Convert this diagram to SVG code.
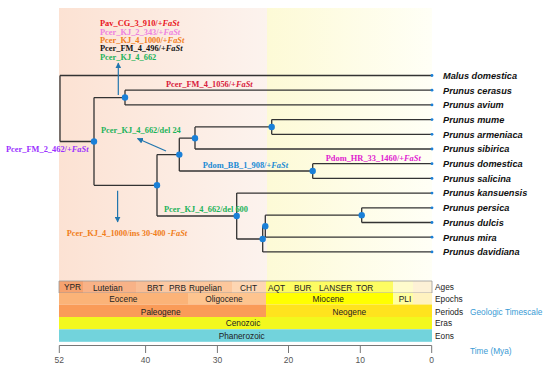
<svg xmlns="http://www.w3.org/2000/svg" width="550" height="373" viewBox="0 0 550 373">
<defs>
<linearGradient id="bgL" x1="0" y1="0" x2="1" y2="0">
<stop offset="0" stop-color="#fce2d3"/>
<stop offset="1" stop-color="#fcf3ee"/>
</linearGradient>
<linearGradient id="bgR" x1="0" y1="0" x2="1" y2="0">
<stop offset="0" stop-color="#fdfad6"/>
<stop offset="1" stop-color="#fffff6"/>
</linearGradient>
<marker id="ah" viewBox="0 0 10 10" refX="9" refY="5" markerWidth="5" markerHeight="5" orient="auto">
<path d="M0 0 L10 5 L0 10 z" fill="#2176ae"/>
</marker>
<style>
.br{fill:none;stroke:#333;stroke-width:1.3}
.nd{fill:#1a80d8}
.lf{fill:#1a80d8}
.sp{font-family:"Liberation Sans",Arial,sans-serif;font-size:9.2px;font-weight:bold;font-style:italic;fill:#111}
.an{font-family:"Liberation Serif","Times New Roman",serif;font-size:8.4px;font-weight:bold}
.it{font-style:italic}
.arr{stroke:#2176ae;stroke-width:1.2;fill:none;marker-end:url(#ah)}
.ts{font-family:"Liberation Sans",Arial,sans-serif;font-size:8.3px;fill:#222}
.tk{font-family:"Liberation Sans",Arial,sans-serif;font-size:8.5px;fill:#555}
.bl{font-family:"Liberation Sans",Arial,sans-serif;font-size:8.3px;fill:#3a9bd5}
</style>
</defs>
<rect width="550" height="373" fill="#fff"/>
<g id="background">
<rect x="59" y="8" width="208" height="273" fill="url(#bgL)"/>
<rect x="267" y="8" width="165" height="273" fill="url(#bgR)"/>
</g>
<g id="timescale">
<g id="ages">
<rect x="59" y="281" width="24" height="12" fill="#f6a26f"/>
<rect x="83" y="281" width="53" height="12" fill="#f8b287"/>
<rect x="136" y="281" width="24" height="12" fill="#f9bd94"/>
<rect x="160" y="281" width="28" height="12" fill="#fbc8a2"/>
<rect x="188" y="281" width="44" height="12" fill="#fcc79c"/>
<rect x="232" y="281" width="34" height="12" fill="#fdd6b3"/>
<rect x="266" y="281" width="127" height="12" fill="#fdfc62"/>
<rect x="393" y="281" width="20" height="12" fill="#fefbcc"/>
<rect x="413" y="281" width="19" height="12" fill="#fdf1d6"/>
<path d="M59 281 H432 V293 H59 Z" fill="none" stroke="#999" stroke-width="0.8"/>
<text class="ts" x="64" y="290">YPR</text>
<text class="ts" x="93" y="291">Lutetian</text>
<text class="ts" x="147" y="291">BRT</text>
<text class="ts" x="169" y="291">PRB</text>
<text class="ts" x="189" y="291">Rupelian</text>
<text class="ts" x="240" y="291">CHT</text>
<text class="ts" x="268" y="291">AQT</text>
<text class="ts" x="294" y="291">BUR</text>
<text class="ts" x="319" y="291">LANSER</text>
<text class="ts" x="356" y="291">TOR</text>
</g>
<g id="epochs">
<rect x="59" y="293" width="129" height="11.5" fill="#fbb378"/>
<rect x="188" y="293" width="78" height="11.5" fill="#fdc48f"/>
<rect x="266" y="293" width="127" height="11.5" fill="#ffff00"/>
<rect x="393" y="293" width="20" height="11.5" fill="#ffffa0"/>
<rect x="413" y="293" width="19" height="11.5" fill="#fff2c0"/>
<text class="ts" x="123.3" y="302.3" text-anchor="middle">Eocene</text>
<text class="ts" x="224" y="302.3" text-anchor="middle">Oligocene</text>
<text class="ts" x="328.3" y="302.3" text-anchor="middle">Miocene</text>
<text class="ts" x="405" y="302.3" text-anchor="middle">PLI</text>
</g>
<g id="periods">
<rect x="59" y="304.5" width="207" height="12.5" fill="#fa9b58"/>
<rect x="266" y="304.5" width="166" height="12.5" fill="#ffe31e"/>
<text class="ts" x="160.7" y="315" text-anchor="middle">Paleogene</text>
<text class="ts" x="349.3" y="315" text-anchor="middle">Neogene</text>
</g>
<g id="eras">
<rect x="59" y="317" width="373" height="12.3" fill="#f2f81e"/>
<text class="ts" x="243" y="326.3" text-anchor="middle">Cenozoic</text>
</g>
<g id="eons">
<rect x="59" y="329.3" width="373" height="12.5" fill="#72d3dc"/>
<text class="ts" x="241.7" y="339" text-anchor="middle">Phanerozoic</text>
</g>
<g id="rowlabels">
<text class="ts" x="435" y="290.3">Ages</text>
<text class="ts" x="435" y="302.3">Epochs</text>
<text class="ts" x="435" y="315">Periods</text>
<text class="ts" x="435" y="326.3">Eras</text>
<text class="ts" x="435" y="339">Eons</text>
<text class="bl" x="470" y="315">Geologic Timescale</text>
</g>
<g id="axis">
<path d="M59.3 345.5 H431.7 M59.3 345.5 V353 M145.6 345.5 V353 M217.4 345.5 V353 M288.5 345.5 V353 M360.3 345.5 V353 M431.7 345.5 V353" fill="none" stroke="#777" stroke-width="1"/>
<text class="tk" x="59.3" y="362.5" text-anchor="middle">52</text>
<text class="tk" x="145.6" y="362.5" text-anchor="middle">40</text>
<text class="tk" x="217.4" y="362.5" text-anchor="middle">30</text>
<text class="tk" x="288.5" y="362.5" text-anchor="middle">20</text>
<text class="tk" x="360.3" y="362.5" text-anchor="middle">10</text>
<text class="tk" x="431.7" y="362.5" text-anchor="middle">0</text>
<text class="bl" x="470" y="354">Time (Mya)</text>
</g>
</g>
<g id="connectors">
<path class="br" d="M60 75.5 V141.5 M60 75.5 H432 M60 141.5 H94"/>
<path class="br" d="M94 97.55 V185.3 M94 97.55 H125 M94 185.3 H157"/>
<path class="br" d="M125 90.2 V104.9 M125 90.2 H432 M125 104.9 H432"/>
<path class="br" d="M157 154.6 V216 M157 154.6 H179.3 M157 216 H236.7"/>
<path class="br" d="M179.3 138.2 V171 M179.3 138.2 H195 M179.3 171 H312.7"/>
<path class="br" d="M195 126.95 V149 M195 126.95 H271.7 M195 149 H432"/>
<path class="br" d="M271.7 119.6 V134.3 M271.7 119.6 H432 M271.7 134.3 H432"/>
<path class="br" d="M312.7 163.7 V178.4 M312.7 163.7 H432 M312.7 178.4 H432"/>
<path class="br" d="M236.7 193.1 V239 M236.7 193.1 H432 M236.7 239 H262.7"/>
<path class="br" d="M262.7 226.2 V251.9 M262.7 226.2 H265.3 M262.7 251.9 H432"/>
<path class="br" d="M265.3 215.15 V237.2 M265.3 215.15 H361.7 M265.3 237.2 H432"/>
<path class="br" d="M361.7 207.8 V222.5 M361.7 207.8 H432 M361.7 222.5 H432"/>
<path class="arr" d="M118.3 95 V63"/>
<path class="arr" d="M166 151 L137.5 138.5"/>
<path class="arr" d="M117.6 190.7 V222"/>
</g>
<g id="nodes">
<circle class="nd" cx="94" cy="141.5" r="3.2"/>
<circle class="nd" cx="125" cy="97.55" r="3.2"/>
<circle class="nd" cx="157" cy="185.3" r="3.2"/>
<circle class="nd" cx="179.3" cy="154.6" r="3.2"/>
<circle class="nd" cx="195" cy="138.2" r="3.2"/>
<circle class="nd" cx="271.7" cy="126.95" r="3.2"/>
<circle class="nd" cx="312.7" cy="171" r="3.2"/>
<circle class="nd" cx="236.7" cy="216" r="3.2"/>
<circle class="nd" cx="262.7" cy="239" r="3.2"/>
<circle class="nd" cx="265.3" cy="226.2" r="3.2"/>
<circle class="nd" cx="361.7" cy="215.15" r="3.2"/>
</g>
<g id="leaves">
<g id="leaf-malus-domestica"><circle class="lf" cx="432" cy="75.5" r="1.4"/><text class="sp" x="443" y="78.8">Malus domestica</text></g>
<g id="leaf-prunus-cerasus"><circle class="lf" cx="432" cy="90.2" r="1.4"/><text class="sp" x="443" y="93.5">Prunus cerasus</text></g>
<g id="leaf-prunus-avium"><circle class="lf" cx="432" cy="104.9" r="1.4"/><text class="sp" x="443" y="108.2">Prunus avium</text></g>
<g id="leaf-prunus-mume"><circle class="lf" cx="432" cy="119.6" r="1.4"/><text class="sp" x="443" y="122.9">Prunus mume</text></g>
<g id="leaf-prunus-armeniaca"><circle class="lf" cx="432" cy="134.3" r="1.4"/><text class="sp" x="443" y="137.6">Prunus armeniaca</text></g>
<g id="leaf-prunus-sibirica"><circle class="lf" cx="432" cy="149" r="1.4"/><text class="sp" x="443" y="152.3">Prunus sibirica</text></g>
<g id="leaf-prunus-domestica"><circle class="lf" cx="432" cy="163.7" r="1.4"/><text class="sp" x="443" y="167">Prunus domestica</text></g>
<g id="leaf-prunus-salicina"><circle class="lf" cx="432" cy="178.4" r="1.4"/><text class="sp" x="443" y="181.7">Prunus salicina</text></g>
<g id="leaf-prunus-kansuensis"><circle class="lf" cx="432" cy="193.1" r="1.4"/><text class="sp" x="443" y="196.4">Prunus kansuensis</text></g>
<g id="leaf-prunus-persica"><circle class="lf" cx="432" cy="207.8" r="1.4"/><text class="sp" x="443" y="211.1">Prunus persica</text></g>
<g id="leaf-prunus-dulcis"><circle class="lf" cx="432" cy="222.5" r="1.4"/><text class="sp" x="443" y="225.8">Prunus dulcis</text></g>
<g id="leaf-prunus-mira"><circle class="lf" cx="432" cy="237.2" r="1.4"/><text class="sp" x="443" y="240.5">Prunus mira</text></g>
<g id="leaf-prunus-davidiana"><circle class="lf" cx="432" cy="251.9" r="1.4"/><text class="sp" x="443" y="255.2">Prunus davidiana</text></g>
</g>
<g id="annotations">
<g id="ann-top">
<text class="an" x="100" y="26.2" fill="#e8141c">Pav_CG_3_910/+<tspan class="it">FaSt</tspan></text>
<text class="an" x="100" y="34.6" fill="#ee80e0">Pcer_KJ_2_343/+<tspan class="it">FaSt</tspan></text>
<text class="an" x="100" y="43" fill="#f07d1a">Pcer_KJ_4_1000/+<tspan class="it">FaSt</tspan></text>
<text class="an" x="100" y="51.4" fill="#111">Pcer_FM_4_496/+<tspan class="it">FaSt</tspan></text>
<text class="an" x="100" y="59.8" fill="#1db35a">Pcer_KJ_4_662</text>
</g>
<text id="ann-fm4" class="an" x="166" y="86.8" fill="#d8203c">Pcer_FM_4_1056/+<tspan class="it">FaSt</tspan></text>
<text id="ann-fm2" class="an" x="6" y="152" fill="#9b30ff">Pcer_FM_2_462/+<tspan class="it">FaSt</tspan></text>
<text id="ann-del24" class="an" x="101" y="133" fill="#1db35a">Pcer_KJ_4_662/del 24</text>
<text id="ann-bb1" class="an" x="202.7" y="168" fill="#1a8ad4">Pdom_BB_1_908/+<tspan class="it">FaSt</tspan></text>
<text id="ann-hr33" class="an" x="325.7" y="161" fill="#e020d0">Pdom_HR_33_1460/+<tspan class="it">FaSt</tspan></text>
<text id="ann-del600" class="an" x="164" y="212" fill="#1db35a">Pcer_KJ_4_662/del 600</text>
<text id="ann-ins" class="an" x="66.7" y="236.3" fill="#f07d1a">Pcer_KJ_4_1000/ins 30-400 -<tspan class="it">FaSt</tspan></text>
</g>
</svg>
